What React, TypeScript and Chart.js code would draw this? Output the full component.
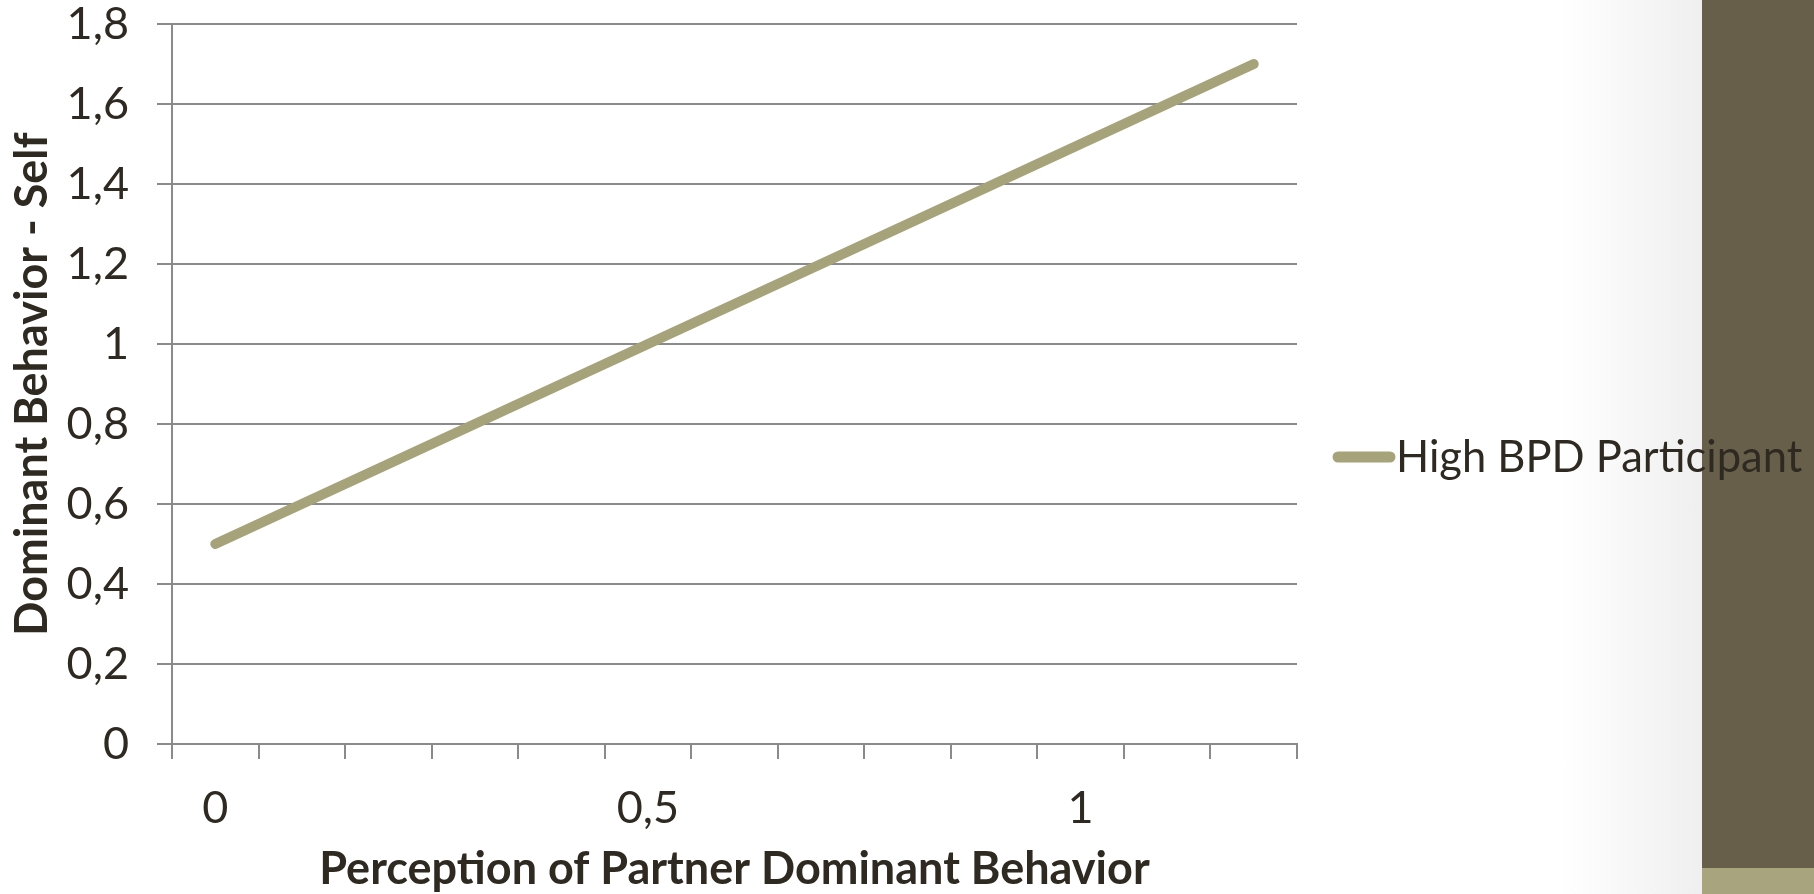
import React, { useEffect, useRef } from 'react';
import { Chart, registerables } from 'chart.js';

Chart.register(...registerables);

// ---- data ----
const categories: number[] = [0, 0.1, 0.2, 0.3, 0.4, 0.5, 0.6, 0.7, 0.8, 0.9, 1, 1.1, 1.2];
const highBPD: number[] = [0.5, 0.6, 0.7, 0.8, 0.9, 1.0, 1.1, 1.2, 1.3, 1.4, 1.5, 1.6, 1.7];
const seriesLabel = 'High BPD Participant';
const xLabelEvery = 5;
const yMin = 0;
const yMax = 1.8;
const yStep = 0.2;
const xTitle = 'Perception of Partner Dominant Behavior';
const yTitle = 'Dominant Behavior - Self';

// ---- style ----
const FONT = 'Lato, "Open Sans", sans-serif';
const TEXT = '#2E2A22';
const GRID = '#8A8A8A';
const LINE = '#A6A27A';
const DARK = '#675F4A';
const LIGHT = '#A8A47D';
const FS = 45;
const LEGEND_FS = 43.5;

const fmt = (v: number) => String(Math.round(v * 10) / 10).replace('.', ',');

const sideLegend = {
  id: 'sideLegend',
  afterDraw(chart: any) {
    const ds = chart.data.datasets[0];
    const ctx = chart.ctx;
    const x0 = chart.chartArea.right + 41;
    const y = 457;
    ctx.save();
    ctx.strokeStyle = ds.borderColor;
    ctx.lineWidth = 11;
    ctx.lineCap = 'round';
    ctx.beginPath();
    ctx.moveTo(x0, y);
    ctx.lineTo(x0 + 52, y);
    ctx.stroke();
    ctx.fillStyle = TEXT;
    ctx.font = `${LEGEND_FS}px ${FONT}`;
    ctx.textBaseline = 'alphabetic';
    ctx.textAlign = 'left';
    ctx.fillText(ds.label, x0 + 58, 472);
    ctx.restore();
  },
};

export default function App() {
  const ref = useRef<HTMLCanvasElement | null>(null);

  useEffect(() => {
    if (!ref.current) return;
    const chart = new Chart(ref.current, {
      type: 'line',
      data: {
        labels: categories.map(fmt),
        datasets: [
          {
            label: seriesLabel,
            data: highBPD,
            borderColor: LINE,
            backgroundColor: LINE,
            borderWidth: 10,
            borderCapStyle: 'round',
            borderJoinStyle: 'round',
            pointRadius: 0,
            pointHoverRadius: 0,
            tension: 0,
            fill: false,
          },
        ],
      },
      options: {
        animation: false,
        responsive: false,
        devicePixelRatio: 1,
        events: [],
        layout: { padding: { top: 24, right: 517, bottom: 0, left: 0 } },
        plugins: {
          legend: { display: false },
          tooltip: { enabled: false },
        },
        scales: {
          x: {
            type: 'category',
            offset: true,
            grid: {
              offset: true,
              drawOnChartArea: false,
              drawTicks: true,
              tickLength: 15,
              color: GRID,
              lineWidth: 2,
            },
            border: { display: true, color: GRID, width: 2 },
            ticks: {
              autoSkip: false,
              maxRotation: 0,
              minRotation: 0,
              padding: 27,
              color: TEXT,
              font: { family: FONT, size: FS, lineHeight: 1 },
              callback: (_v: any, i: number) => (i % xLabelEvery === 0 ? fmt(categories[i]) : ''),
            },
            title: {
              display: true,
              text: xTitle,
              color: TEXT,
              font: { family: FONT, size: FS, weight: 'bold', lineHeight: 1 },
              padding: { top: 0, bottom: 2 },
            },
            afterFit: (s: any) => {
              s.height = 150;
              s.paddingLeft = 0;
              s.paddingRight = 0;
            },
          },
          y: {
            min: yMin,
            max: yMax,
            grid: {
              color: GRID,
              lineWidth: 2,
              tickLength: 15,
              drawTicks: true,
            },
            border: { display: true, color: GRID, width: 2 },
            ticks: {
              stepSize: yStep,
              padding: 28,
              color: TEXT,
              font: { family: FONT, size: FS, lineHeight: 1 },
              callback: (v: any) => fmt(Number(v)),
            },
            title: {
              display: true,
              text: yTitle,
              color: TEXT,
              font: { family: FONT, size: FS, weight: 'bold', lineHeight: 1 },
              padding: { top: 10, bottom: 0 },
            },
            afterFit: (s: any) => {
              s.width = 172;
              s.paddingTop = 0;
              s.paddingBottom = 0;
            },
          },
        },
      },
      plugins: [sideLegend],
    } as any);
    return () => chart.destroy();
  }, []);

  return (
    <div
      style={{
        position: 'fixed',
        left: 0,
        top: 0,
        width: 1814,
        height: 894,
        overflow: 'hidden',
        background: 'linear-gradient(to right, #ffffff 0px, #ffffff 1560px, #efefef 1702px)',
      }}
    >
      <div style={{ position: 'absolute', left: 1702, top: 0, width: 112, height: 868, background: DARK }} />
      <div style={{ position: 'absolute', left: 1702, top: 868, width: 112, height: 26, background: LIGHT }} />
      <canvas
        ref={ref}
        width={1814}
        height={894}
        style={{ position: 'absolute', left: 0, top: 0, width: 1814, height: 894, zIndex: 1 }}
      />
    </div>
  );
}
